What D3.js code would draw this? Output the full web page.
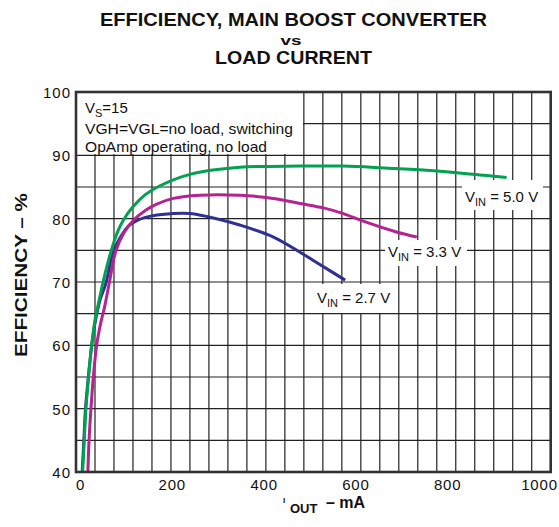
<!DOCTYPE html>
<html>
<head>
<meta charset="utf-8">
<script src="https://cdn.jsdelivr.net/npm/d3@7"></script>
<style>
body { margin: 0; background: #fff; }
text { font-family: "Liberation Sans", Arial, sans-serif; fill: #111; }
</style>
</head>
<body>
<svg class="chart"></svg>
<script>
// values
var xTicks = [0, 200, 400, 600, 800, 1000]
var yTicks = [40, 50, 60, 70, 80, 90, 100]

var ma50  = [14, 17.5, 21, 26.5, 33, 40, 47, 57, 74, 88, 100, 119, 146, 177, 240, 345, 472, 563, 650, 746, 851, 907]
var eff50 = [40, 45, 50, 55, 60, 64, 66.5, 70, 74.9, 78, 79.8, 81.8, 83.8, 85.2, 87.0, 88.1, 88.3, 88.3, 88.0, 87.6, 86.9, 86.5]

var ma33  = [25, 27.5, 31.5, 36.5, 43.5, 52, 60, 70, 84, 102, 123, 146, 170, 205, 261, 345, 416, 472, 521, 563, 605, 675, 718]
var eff33 = [40, 45, 50, 55, 60, 63.5, 66, 69.8, 74.9, 77.9, 79.9, 81.3, 82.3, 83.2, 83.7, 83.7, 83.2, 82.4, 81.7, 80.8, 79.6, 77.9, 77.1]

var ma27  = [13, 16.5, 20, 26, 33, 40, 50, 63, 79, 97, 110, 123, 146, 205, 240, 296, 345, 416, 472, 500, 567]
var eff27 = [40, 45, 50, 55, 60, 63.5, 67, 69.8, 74.9, 77.5, 78.8, 79.5, 80.2, 80.8, 80.8, 80.0, 79.0, 77.1, 74.7, 73.4, 70.3]

var series = [
  {name: "2.7", ma: ma27, eff: eff27, color: "#2e3192"},
  {name: "3.3", ma: ma33, eff: eff33, color: "#b5238f"},
  {name: "5.0", ma: ma50, eff: eff50, color: "#00a14f"}
]

var width = 559;
var height = 527;
var svg = d3.select(".chart").attr("width", width).attr("height", height)

var x_scale = d3.scaleLinear().domain([0, 1000]).range([76, 550.7]);
var y_scale = d3.scaleLinear().domain([40, 100]).range([472, 92]);
// tick labels in the original sit a little inside the grid
var x_label_scale = d3.scaleLinear().domain([0, 1000]).range([80, 539]);

// grid
svg.append("g").selectAll("line")
  .data(d3.range(40, 1000, 40))
  .join("line")
  .attr("x1", d => x_scale(d)).attr("x2", d => x_scale(d))
  .attr("y1", y_scale(40)).attr("y2", y_scale(100))
  .attr("stroke", "#222").attr("stroke-width", 1.2);

svg.append("g").selectAll("line")
  .data(d3.range(45, 100, 5))
  .join("line")
  .attr("x1", x_scale(0)).attr("x2", x_scale(1000))
  .attr("y1", d => y_scale(d)).attr("y2", d => y_scale(d))
  .attr("stroke", "#222").attr("stroke-width", 1.2);

// white boxes behind the notes
svg.append("rect").attr("x", 77).attr("y", 93).attr("width", 226).attr("height", 61).attr("fill", "#fff");
svg.append("rect").attr("x", 462).attr("y", 180).attr("width", 81).attr("height", 30).attr("fill", "#fff");
svg.append("rect").attr("x", 385).attr("y", 240).attr("width", 82).attr("height", 26).attr("fill", "#fff");
svg.append("rect").attr("x", 313).attr("y", 284).attr("width", 83).attr("height", 29).attr("fill", "#fff");

// curves
svg.append("clipPath").attr("id", "plot")
  .append("rect").attr("x", 76).attr("y", 92).attr("width", 474.7).attr("height", 380);

var line = d3.line()
  .x(d => x_scale(d[0]))
  .y(d => y_scale(d[1]))
  .curve(d3.curveCatmullRom.alpha(0.5));

series.forEach(function(s) {
  svg.append("path")
    .attr("d", line(d3.zip(s.ma, s.eff)))
    .attr("fill", "none")
    .attr("stroke", s.color)
    .attr("stroke-width", 3)
    .attr("clip-path", "url(#plot)");
});

// frame
svg.append("rect")
  .attr("x", 76).attr("y", 92).attr("width", 474.7).attr("height", 380)
  .attr("fill", "none").attr("stroke", "#333").attr("stroke-width", 2.6);

// axes (labels only)
var x_axis = d3.axisBottom(x_label_scale).tickValues(xTicks).tickFormat(d3.format("d")).tickSize(0).tickPadding(0);
var gx = svg.append("g").attr("transform", "translate(0,478)").call(x_axis);
gx.select(".domain").remove();
gx.selectAll("text").attr("font-size", 15).attr("fill", "#111").attr("letter-spacing", 0.8)
  .attr("font-family", "Liberation Sans, Arial, sans-serif").attr("dy", "0.78em");

var y_axis = d3.axisLeft(y_scale).tickValues(yTicks).tickFormat(d3.format("d")).tickSize(0).tickPadding(0);
var gy = svg.append("g").attr("transform", "translate(71,0)").call(y_axis);
gy.select(".domain").remove();
gy.selectAll("text").attr("font-size", 15).attr("fill", "#111").attr("letter-spacing", 1)
  .attr("font-family", "Liberation Sans, Arial, sans-serif").attr("dy", "0.36em");

// title
svg.append("text").attr("x", 293.5).attr("y", 26).attr("text-anchor", "middle")
  .attr("font-size", 18).attr("font-weight", "bold")
  .attr("textLength", 387).attr("lengthAdjust", "spacingAndGlyphs")
  .text("EFFICIENCY, MAIN BOOST CONVERTER");
svg.append("text").attr("x", 291).attr("y", 44.5).attr("text-anchor", "middle")
  .attr("font-size", 13).attr("font-weight", "bold")
  .attr("textLength", 21).attr("lengthAdjust", "spacingAndGlyphs")
  .text("vs");
svg.append("text").attr("x", 293.5).attr("y", 63.5).attr("text-anchor", "middle")
  .attr("font-size", 18).attr("font-weight", "bold")
  .attr("textLength", 157).attr("lengthAdjust", "spacingAndGlyphs")
  .text("LOAD CURRENT");

// axis titles
svg.append("text")
  .attr("transform", "rotate(-90)")
  .attr("x", -275).attr("y", 27)
  .attr("text-anchor", "middle")
  .attr("font-size", 16).attr("font-weight", "bold")
  .attr("textLength", 164).attr("lengthAdjust", "spacingAndGlyphs")
  .text("EFFICIENCY – %");

var xl = svg.append("text").attr("font-weight", "bold");
xl.append("tspan").attr("x", 283).attr("y", 503).attr("font-size", 8).text("I");
xl.append("tspan").attr("x", 290).attr("y", 513).attr("font-size", 13).text("OUT");
xl.append("tspan").attr("x", 326).attr("y", 508).attr("font-size", 16).text("– mA");

// notes
var n1 = svg.append("text").attr("x", 85).attr("y", 113).attr("font-size", 15);
n1.append("tspan").text("V");
n1.append("tspan").attr("font-size", 11).attr("dy", 4).text("S");
n1.append("tspan").attr("dy", -4).text("=15");

svg.append("text").attr("x", 85).attr("y", 134).attr("font-size", 15)
  .attr("textLength", 208).attr("lengthAdjust", "spacingAndGlyphs")
  .text("VGH=VGL=no load, switching");
svg.append("text").attr("x", 85).attr("y", 151.5).attr("font-size", 15)
  .attr("textLength", 182).attr("lengthAdjust", "spacingAndGlyphs")
  .text("OpAmp operating, no load");

var labels = [
  {name: "5.0", x: 465, y: 201.5},
  {name: "3.3", x: 388, y: 256.5},
  {name: "2.7", x: 317, y: 303}
]
labels.forEach(function(l) {
  var t = svg.append("text").attr("x", l.x).attr("y", l.y).attr("font-size", 15);
  t.append("tspan").text("V");
  t.append("tspan").attr("font-size", 11).attr("dy", 4).text("IN");
  t.append("tspan").attr("dy", -4).text(" = " + l.name + " V");
});
</script>
</body>
</html>
